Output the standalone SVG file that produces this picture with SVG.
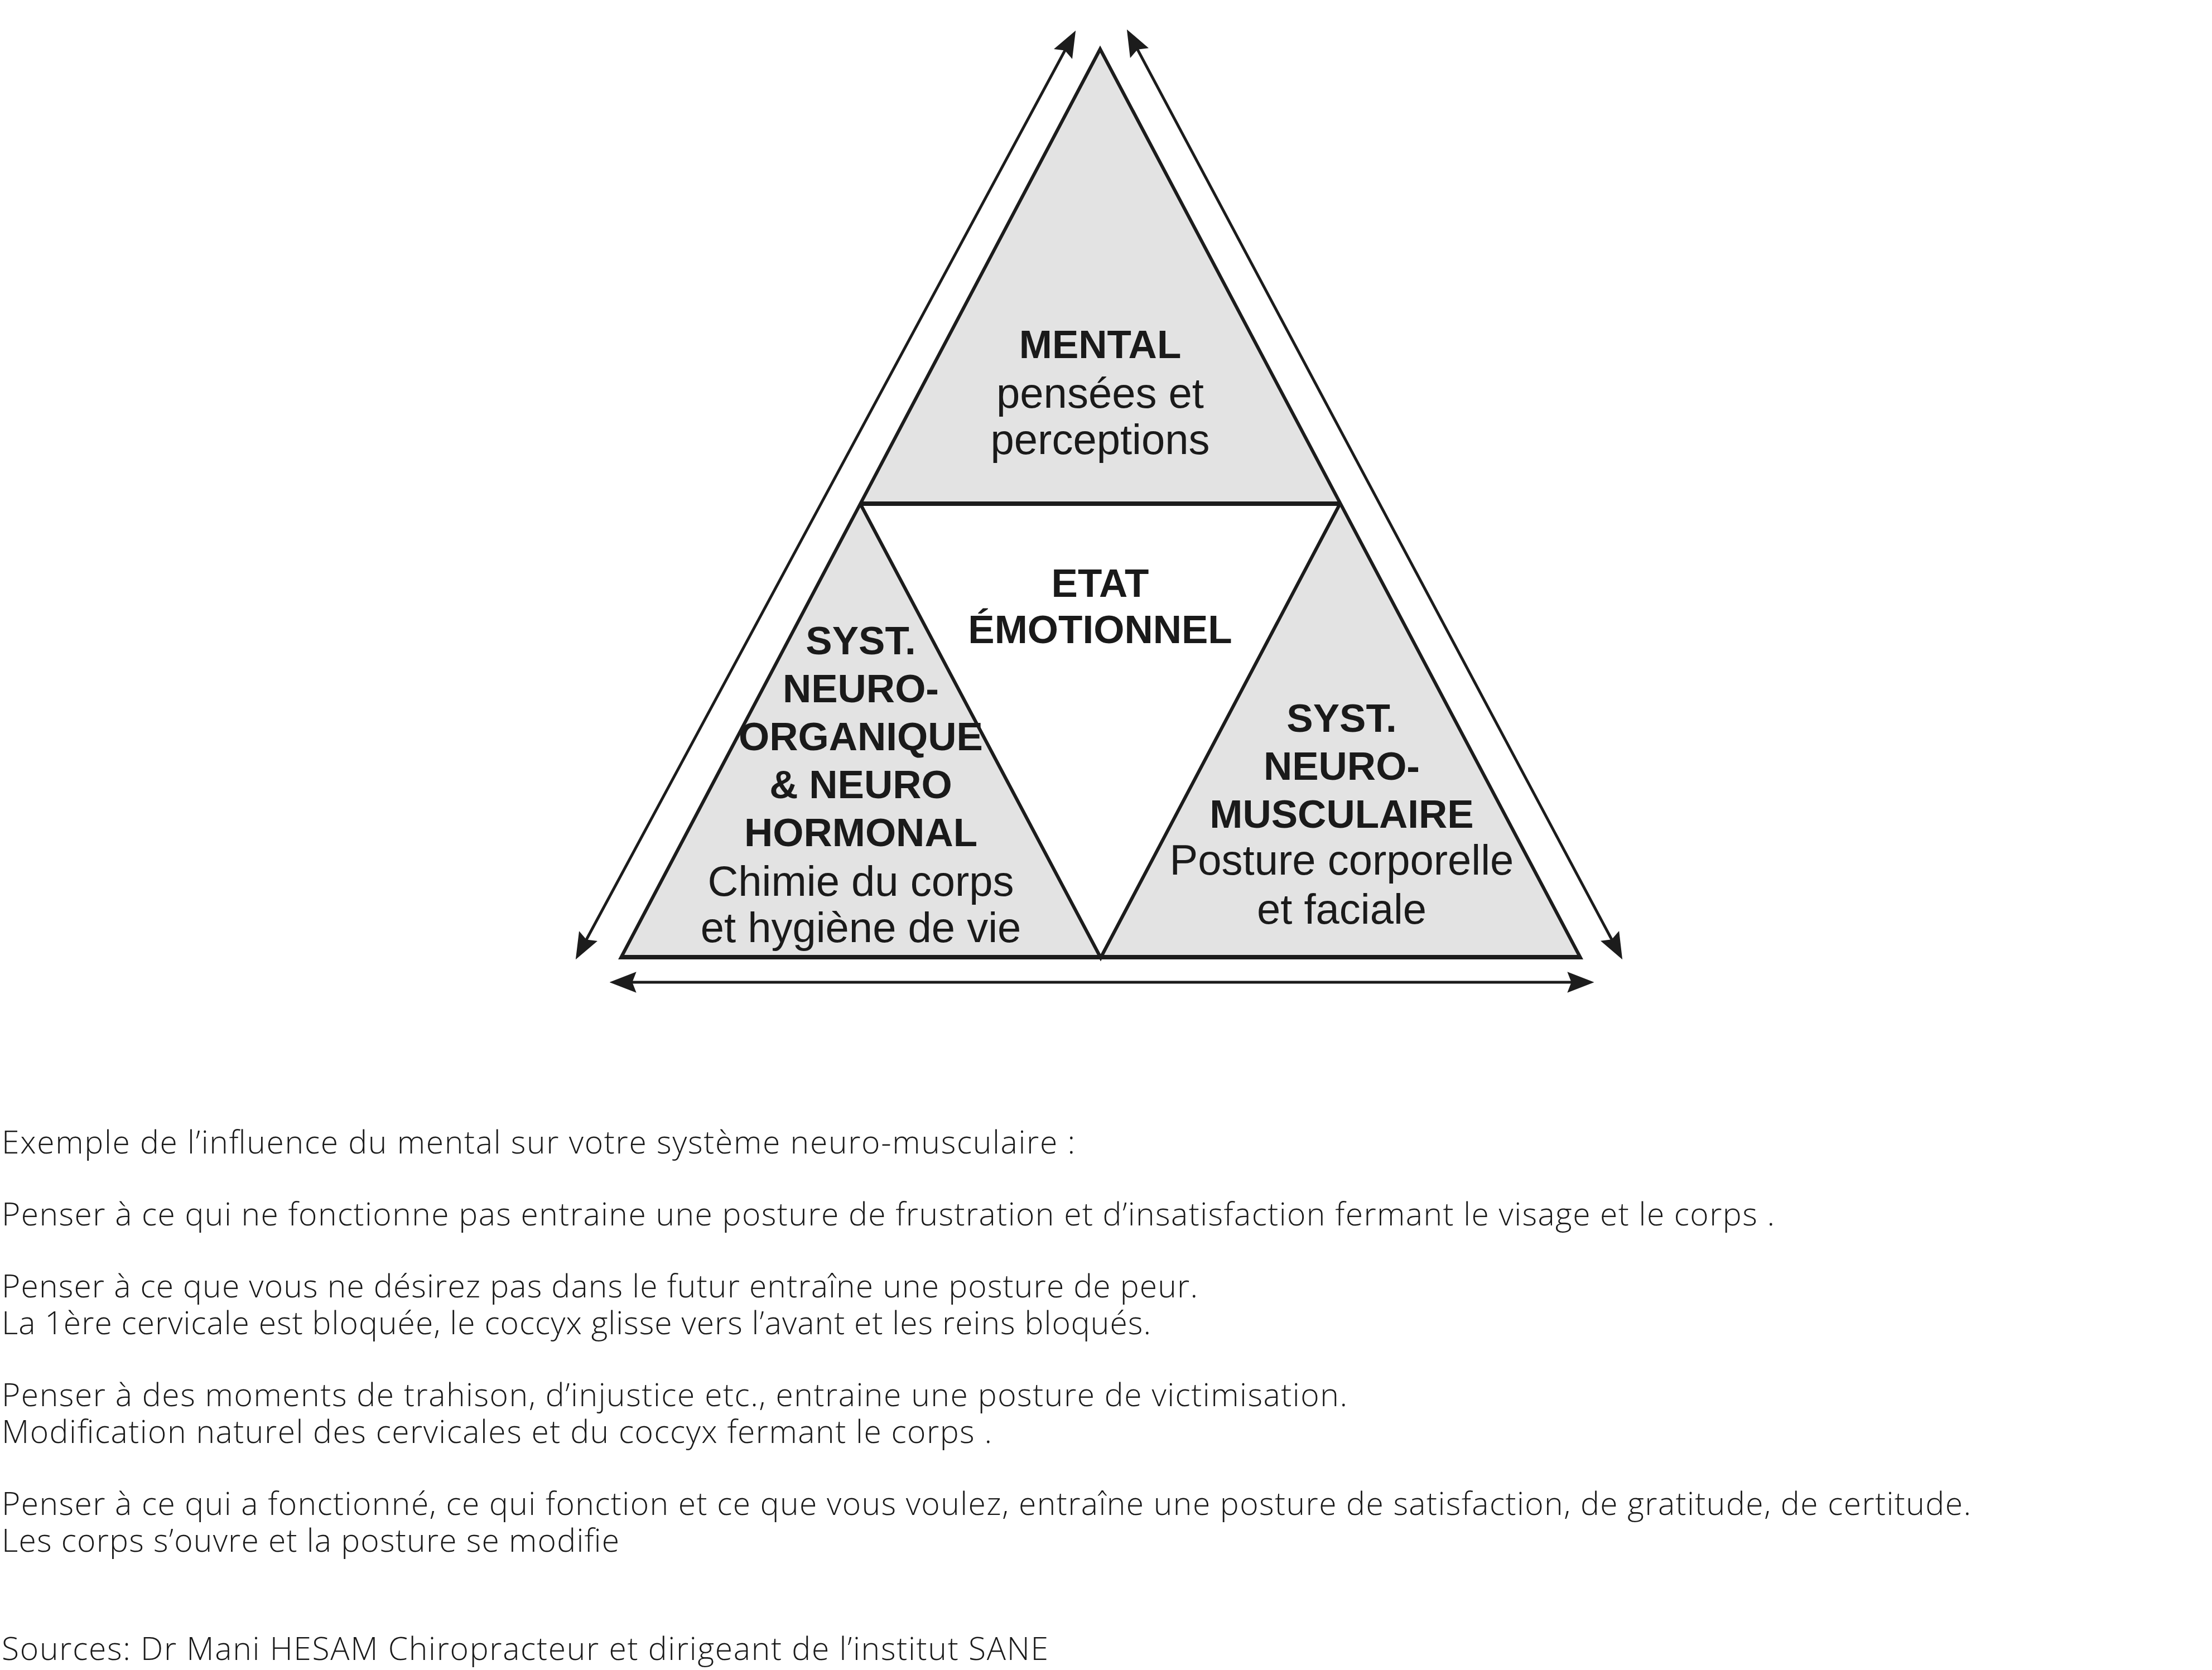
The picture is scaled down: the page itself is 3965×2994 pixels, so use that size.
<svg xmlns="http://www.w3.org/2000/svg" width="3965" height="2994" viewBox="0 0 3965 2994">
<defs>
<style>
.tri{fill:#e3e3e3;stroke:none}
.edge{fill:none;stroke:#1c1c1c;stroke-width:6;stroke-linejoin:miter}
.hline{fill:none;stroke:#1c1c1c;stroke-width:8}
.arr{fill:none;stroke:#1c1c1c;stroke-width:5;marker-start:url(#ah);marker-end:url(#ah)}
.b{font-family:"Liberation Sans",Arial,sans-serif;font-weight:bold;font-size:71px;fill:#1a1a1a;text-anchor:middle}
.r{font-family:"Liberation Sans",Arial,sans-serif;font-size:76px;fill:#1a1a1a;text-anchor:middle}
.body{font-family:"Open Sans","Liberation Sans",sans-serif;font-weight:300;font-size:57px;fill:#1a1a1a}
</style>
<marker id="ah" markerUnits="userSpaceOnUse" markerWidth="48" markerHeight="38" viewBox="0 0 46 36" refX="38" refY="18" orient="auto-start-reverse">
<path d="M0,0 L46,18 L0,36 L7,18 z" fill="#1c1c1c"/>
</marker>
</defs>
<rect width="3965" height="2994" fill="#ffffff"/>

<g id="node-mental">
<polygon class="tri" points="1972,88 1542,903 2402,903"/>
<text class="b" x="1972" y="642">MENTAL</text>
<text class="r" x="1972" y="731">pensées et</text>
<text class="r" x="1972" y="814">perceptions</text>
</g>

<g id="node-emotionnel">
<text class="b" x="1972" y="1070">ETAT</text>
<text class="b" x="1972" y="1153">ÉMOTIONNEL</text>
</g>

<g id="node-neuro-organique">
<polygon class="tri" points="1542,903 1113,1717 1973,1717"/>
<text class="b" x="1543" y="1173">SYST.</text>
<text class="b" x="1543" y="1259">NEURO-</text>
<text class="b" x="1543" y="1345">ORGANIQUE</text>
<text class="b" x="1543" y="1431">&amp; NEURO</text>
<text class="b" x="1543" y="1517">HORMONAL</text>
<text class="r" x="1543" y="1606">Chimie du corps</text>
<text class="r" x="1543" y="1689">et hygiène de vie</text>
</g>

<g id="node-neuro-musculaire">
<polygon class="tri" points="2402,903 1973,1717 2833,1717"/>
<text class="b" x="2405" y="1312">SYST.</text>
<text class="b" x="2405" y="1398">NEURO-</text>
<text class="b" x="2405" y="1484">MUSCULAIRE</text>
<text class="r" x="2405" y="1568">Posture corporelle</text>
<text class="r" x="2405" y="1656">et faciale</text>
</g>

<g id="outline">
<polygon class="edge" points="1972,88 1113,1717 2833,1717"/>
<polyline class="edge" points="1542,903 1973,1717 2402,903"/>
<line class="hline" x1="1542" y1="903" x2="2402" y2="903"/>
<line class="hline" x1="1113" y1="1716" x2="2833" y2="1716"/>
</g>

<g id="connectors">
<line class="arr" x1="1924.2" y1="62" x2="1035.8" y2="1713"/>
<line class="arr" x1="2023.8" y1="60.1" x2="2904.2" y2="1712.9"/>
<line class="arr" x1="1101" y1="1761" x2="2849" y2="1761"/>
</g>

<g id="body-text">
<text class="body" x="3" y="2068" textLength="1924">Exemple de l’influence du mental sur votre système neuro-musculaire :</text>
<text class="body" x="3" y="2197" textLength="3178">Penser à ce qui ne fonctionne pas entraine une posture de frustration et d’insatisfaction fermant le visage et le corps .</text>
<text class="body" x="3" y="2326" textLength="2144">Penser à ce que vous ne désirez pas dans le futur entraîne une posture de peur.</text>
<text class="body" x="3" y="2392" textLength="2060">La 1ère cervicale est bloquée, le coccyx glisse vers l’avant et les reins bloqués.</text>
<text class="body" x="3" y="2521" textLength="2412">Penser à des moments de trahison, d’injustice etc., entraine une posture de victimisation.</text>
<text class="body" x="3" y="2587" textLength="1775">Modification naturel des cervicales et du coccyx fermant le corps .</text>
<text class="body" x="3" y="2716" textLength="3530">Penser à ce qui a fonctionné, ce qui fonction et ce que vous voulez, entraîne une posture de satisfaction, de gratitude, de certitude.</text>
<text class="body" x="3" y="2782" textLength="1107">Les corps s’ouvre et la posture se modifie</text>
<text class="body" x="3" y="2976" textLength="1876">Sources: Dr Mani HESAM Chiropracteur et dirigeant de l’institut SANE</text>
</g>
</svg>
